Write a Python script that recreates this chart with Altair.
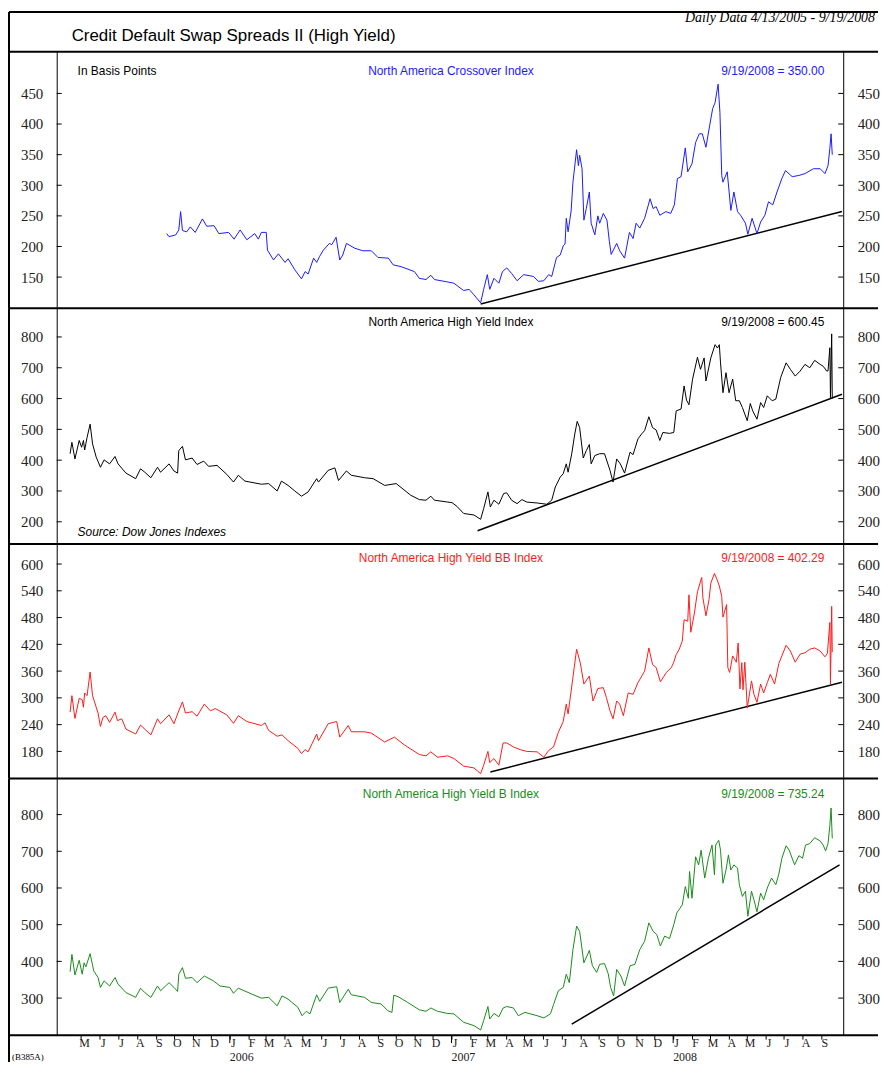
import altair as alt
import pandas as pd

# ---------------- data ----------------
xo_dates = ["2005-09-19","2005-09-23","2005-10-04","2005-10-09","2005-10-12","2005-10-15","2005-10-22","2005-10-28",
"2005-11-05","2005-11-17","2005-11-24","2005-12-06","2005-12-14","2005-12-30","2006-01-08","2006-01-18","2006-01-29",
"2006-02-11","2006-02-17","2006-02-22","2006-03-02","2006-03-04","2006-03-14","2006-03-22","2006-04-02","2006-04-07",
"2006-04-18","2006-04-29","2006-05-05","2006-05-10","2006-05-19","2006-05-24","2006-05-29","2006-06-04","2006-06-14",
"2006-06-18","2006-06-25","2006-07-01","2006-07-06","2006-07-12","2006-07-26","2006-08-08","2006-08-22","2006-09-02",
"2006-09-19","2006-09-27","2006-10-10","2006-11-01","2006-11-09","2006-11-20","2006-11-28","2006-12-04","2006-12-26",
"2007-01-05","2007-01-21","2007-01-30","2007-02-07","2007-02-18","2007-02-23","2007-03-01","2007-03-05","2007-03-12",
"2007-03-20","2007-03-26","2007-04-02","2007-04-10","2007-04-19","2007-04-30","2007-05-16","2007-05-24","2007-06-02",
"2007-06-10","2007-06-15","2007-06-23","2007-06-29","2007-07-04","2007-07-07","2007-07-09","2007-07-12","2007-07-17",
"2007-07-20","2007-07-26","2007-07-29","2007-07-31","2007-08-04","2007-08-07","2007-08-11","2007-08-16","2007-08-19",
"2007-08-25","2007-08-30","2007-09-02","2007-09-08","2007-09-14","2007-09-18","2007-09-21","2007-09-30","2007-10-05",
"2007-10-13","2007-10-21","2007-10-27","2007-11-01","2007-11-07","2007-11-15","2007-11-24","2007-11-29","2007-12-04",
"2007-12-10","2007-12-20","2007-12-28","2008-01-03","2008-01-08","2008-01-14","2008-01-21","2008-01-25","2008-02-01",
"2008-02-07","2008-02-13","2008-02-18","2008-02-24","2008-03-01","2008-03-06","2008-03-10","2008-03-15","2008-03-18",
"2008-03-21","2008-03-23","2008-03-30","2008-04-05","2008-04-10","2008-04-16","2008-04-21","2008-04-29","2008-05-03",
"2008-05-10","2008-05-18","2008-05-24","2008-05-31","2008-06-06","2008-06-13","2008-06-20","2008-06-28","2008-07-04",
"2008-07-15","2008-07-26","2008-08-05","2008-08-19","2008-08-30","2008-09-07","2008-09-12","2008-09-15","2008-09-17",
"2008-09-19"]
xo_vals = [221,216,219,227,257,226,224,232,223,245,233,234,221,223,212,227,211,221,212,223,223,194,178,188,174,180,
162,147,159,155,181,174,184,194,205,203,215,178,186,205,197,193,193,182,181,170,167,159,148,146,153,146,142,
140,128,130,121,108,130,154,130,148,140,159,165,156,144,154,151,143,144,154,151,182,186,201,204,246,224,258,
305,358,332,349,327,243,262,289,238,219,250,238,254,243,208,187,205,193,181,223,213,238,230,246,278,262,265,
251,257,254,268,311,314,361,322,335,370,384,384,362,397,425,435,465,419,316,305,322,259,289,257,251,238,220,
246,221,240,251,273,268,289,311,324,314,316,319,327,327,319,332,360,384,350.00]

hy_dates = ["2005-04-13","2005-04-16","2005-04-21","2005-04-28","2005-05-02","2005-05-05","2005-05-07","2005-05-11",
"2005-05-16","2005-05-20","2005-05-26","2005-06-02","2005-06-08","2005-06-17","2005-06-26","2005-07-01","2005-07-14",
"2005-07-30","2005-08-07","2005-08-14","2005-08-24","2005-09-04","2005-09-09","2005-09-23","2005-10-01","2005-10-07",
"2005-10-09","2005-10-15","2005-10-20","2005-10-31","2005-11-08","2005-11-19","2005-11-27","2005-12-11","2005-12-27",
"2006-01-07","2006-01-15","2006-01-26","2006-02-22","2006-03-06","2006-03-20","2006-03-27","2006-04-07","2006-04-18",
"2006-04-29","2006-05-10","2006-05-24","2006-05-27","2006-06-12","2006-06-23","2006-06-29","2006-07-12","2006-07-20",
"2006-08-11","2006-08-25","2006-09-13","2006-10-02","2006-10-26","2006-11-09","2006-11-20","2006-11-28","2006-12-04",
"2006-12-26","2007-01-02","2007-01-10","2007-01-21","2007-02-07","2007-02-18","2007-02-23","2007-03-02","2007-03-06",
"2007-03-12","2007-03-20","2007-03-28","2007-04-02","2007-04-10","2007-04-19","2007-04-27","2007-05-05","2007-05-22",
"2007-06-07","2007-06-15","2007-06-21","2007-06-29","2007-07-04","2007-07-09","2007-07-12","2007-07-18","2007-07-23",
"2007-07-27","2007-07-31","2007-08-06","2007-08-11","2007-08-16","2007-08-19","2007-08-25","2007-09-02","2007-09-10",
"2007-09-19","2007-09-24","2007-09-30","2007-10-06","2007-10-13","2007-10-22","2007-10-27","2007-11-04","2007-11-10",
"2007-11-15","2007-11-22","2007-11-28","2007-12-04","2007-12-10","2007-12-15","2007-12-26","2008-01-02","2008-01-06",
"2008-01-14","2008-01-19","2008-01-23","2008-01-27","2008-02-02","2008-02-10","2008-02-15","2008-02-21","2008-02-24",
"2008-03-03","2008-03-10","2008-03-14","2008-03-17","2008-03-19","2008-03-23","2008-03-28","2008-04-02","2008-04-08",
"2008-04-13","2008-04-19","2008-04-24","2008-05-02","2008-05-07","2008-05-11","2008-05-18","2008-05-24","2008-05-29",
"2008-06-04","2008-06-12","2008-06-18","2008-06-26","2008-07-05","2008-07-12","2008-07-20","2008-07-28","2008-08-05",
"2008-08-13","2008-08-21","2008-08-30","2008-09-04","2008-09-10","2008-09-12","2008-09-15","2008-09-16","2008-09-18",
"2008-09-19"]
hy_vals = [421,458,404,464,442,464,433,474,517,453,410,377,401,388,412,388,358,340,372,361,343,377,361,388,365,358,
431,445,401,407,386,397,380,383,354,329,351,332,322,324,300,332,318,300,283,297,340,329,367,375,334,365,351,
343,340,318,324,286,272,270,283,270,264,262,250,227,222,208,243,297,248,270,257,292,294,270,259,272,264,261,
257,270,313,345,356,388,361,421,485,526,506,407,431,451,388,415,421,421,367,329,404,388,358,426,418,469,485,
496,541,506,498,464,490,487,490,560,566,641,595,580,663,734,695,732,657,732,775,764,775,716,619,684,619,663,
593,593,571,528,584,560,533,587,571,609,593,598,668,716,695,673,689,711,700,724,711,705,689,690,765,603,810,
600.45]

bb_dates = ["2005-04-13","2005-04-16","2005-04-21","2005-04-28","2005-05-03","2005-05-05","2005-05-07","2005-05-11",
"2005-05-16","2005-05-20","2005-05-29","2005-06-02","2005-06-06","2005-06-11","2005-06-17","2005-06-26","2005-06-30",
"2005-07-07","2005-07-14","2005-07-30","2005-08-07","2005-08-14","2005-08-24","2005-09-04","2005-09-09","2005-09-23",
"2005-10-01","2005-10-09","2005-10-15","2005-10-20","2005-10-31","2005-11-08","2005-11-20","2005-11-30","2005-12-08",
"2005-12-27","2006-01-07","2006-01-15","2006-01-29","2006-02-22","2006-02-28","2006-03-06","2006-03-20","2006-03-28",
"2006-04-07","2006-04-23","2006-04-29","2006-05-05","2006-05-10","2006-05-24","2006-05-27","2006-06-12","2006-06-26",
"2006-07-01","2006-07-15","2006-07-20","2006-08-11","2006-08-22","2006-09-13","2006-09-29","2006-10-15","2006-11-09",
"2006-11-20","2006-11-28","2006-12-09","2006-12-26","2007-01-05","2007-01-21","2007-02-07","2007-02-18","2007-02-23",
"2007-03-02","2007-03-05","2007-03-12","2007-03-20","2007-03-27","2007-04-02","2007-04-13","2007-04-24","2007-05-05",
"2007-05-22","2007-06-02","2007-06-10","2007-06-18","2007-06-26","2007-07-04","2007-07-09","2007-07-12","2007-07-20",
"2007-07-26","2007-08-01","2007-08-07","2007-08-16","2007-08-22","2007-08-30","2007-09-08","2007-09-13","2007-09-19",
"2007-09-24","2007-09-30","2007-10-05","2007-10-11","2007-10-19","2007-10-27","2007-11-04","2007-11-15","2007-11-22",
"2007-11-28","2007-12-04","2007-12-11","2007-12-21","2007-12-29","2008-01-02","2008-01-06","2008-01-11","2008-01-16",
"2008-01-19","2008-01-25","2008-01-27","2008-01-30","2008-02-05","2008-02-10","2008-02-17","2008-02-19","2008-02-24",
"2008-02-29","2008-03-03","2008-03-09","2008-03-13","2008-03-17","2008-03-21","2008-03-23","2008-03-29","2008-03-31",
"2008-04-03","2008-04-08","2008-04-14","2008-04-17","2008-04-20","2008-04-23","2008-04-25","2008-04-28","2008-05-02",
"2008-05-09","2008-05-13","2008-05-18","2008-05-24","2008-05-29","2008-06-04","2008-06-09","2008-06-16","2008-06-23",
"2008-06-28","2008-07-05","2008-07-12","2008-07-20","2008-07-28","2008-08-05","2008-08-13","2008-08-21","2008-08-30",
"2008-09-07","2008-09-11","2008-09-15","2008-09-16","2008-09-18","2008-09-19"]
bb_vals = [268,305,254,299,296,279,311,305,358,305,266,236,256,260,245,268,249,253,230,219,239,230,217,253,242,262,
242,271,291,266,269,259,286,271,276,262,243,260,247,238,244,227,214,217,204,187,175,184,179,219,204,242,247,
212,238,224,224,221,201,212,195,173,170,179,167,170,164,147,143,130,149,180,155,164,149,199,199,190,184,180,
179,167,182,190,223,247,286,264,346,409,379,331,349,293,321,323,301,271,253,293,286,260,311,308,334,360,412,
375,368,336,357,368,380,397,409,427,475,472,531,447,490,538,570,524,484,520,557,579,566,551,527,481,509,368,
357,394,380,423,320,379,318,380,277,338,308,290,331,311,334,353,331,377,394,418,405,380,398,401,409,412,405,
392,400,469,331,505,402.29]

b_dates = ["2005-04-13","2005-04-16","2005-04-21","2005-04-28","2005-05-03","2005-05-06","2005-05-09","2005-05-16",
"2005-05-22","2005-05-29","2005-06-02","2005-06-08","2005-06-17","2005-06-26","2005-07-01","2005-07-14","2005-07-30",
"2005-08-07","2005-08-14","2005-08-24","2005-09-04","2005-09-09","2005-09-23","2005-10-01","2005-10-07","2005-10-09",
"2005-10-15","2005-10-20","2005-10-31","2005-11-08","2005-11-20","2005-12-05","2005-12-16","2006-01-01","2006-01-07",
"2006-01-15","2006-02-06","2006-02-22","2006-03-06","2006-03-20","2006-03-28","2006-04-07","2006-04-23","2006-04-30",
"2006-05-07","2006-05-13","2006-05-24","2006-05-29","2006-06-12","2006-06-26","2006-07-01","2006-07-15","2006-07-20",
"2006-08-11","2006-08-22","2006-09-07","2006-09-18","2006-09-25","2006-09-28","2006-10-05","2006-10-21","2006-11-09",
"2006-11-20","2006-11-28","2006-12-09","2006-12-26","2007-01-05","2007-01-21","2007-02-07","2007-02-18","2007-02-23",
"2007-03-02","2007-03-05","2007-03-12","2007-03-20","2007-03-27","2007-04-02","2007-04-13","2007-04-21","2007-05-02",
"2007-05-22","2007-06-02","2007-06-13","2007-06-18","2007-06-26","2007-07-04","2007-07-09","2007-07-14","2007-07-20",
"2007-07-26","2007-07-31","2007-08-07","2007-08-16","2007-08-21","2007-08-28","2007-09-02","2007-09-10","2007-09-16",
"2007-09-20","2007-09-25","2007-09-30","2007-10-07","2007-10-13","2007-10-22","2007-10-30","2007-11-07","2007-11-15",
"2007-11-22","2007-11-29","2007-12-05","2007-12-11","2007-12-18","2007-12-26","2008-01-02","2008-01-07","2008-01-16",
"2008-01-21","2008-01-26","2008-01-28","2008-02-01","2008-02-07","2008-02-12","2008-02-16","2008-02-22","2008-02-28",
"2008-03-05","2008-03-09","2008-03-11","2008-03-16","2008-03-19","2008-03-23","2008-03-28","2008-04-01","2008-04-05",
"2008-04-10","2008-04-16","2008-04-19","2008-04-24","2008-04-29","2008-05-03","2008-05-09","2008-05-13","2008-05-18",
"2008-05-24","2008-05-29","2008-06-04","2008-06-11","2008-06-18","2008-06-23","2008-06-28","2008-07-05","2008-07-10",
"2008-07-19","2008-07-26","2008-08-01","2008-08-06","2008-08-13","2008-08-21","2008-08-30","2008-09-04","2008-09-08",
"2008-09-12","2008-09-15","2008-09-17","2008-09-19"]
b_vals = [372,419,363,403,365,396,385,421,374,356,329,347,333,356,338,315,302,327,315,302,333,320,342,329,318,365,
383,354,356,342,360,347,333,329,313,327,311,300,302,279,306,297,275,252,264,257,309,291,327,331,288,324,309,
302,288,284,266,261,308,304,288,268,264,273,264,258,257,234,225,213,239,277,243,258,249,273,277,273,252,261,
252,246,257,282,320,329,365,342,432,496,482,396,430,388,370,392,394,367,329,306,378,360,333,388,392,432,455,
505,482,473,442,469,462,500,532,554,604,572,645,572,685,663,703,627,681,717,636,717,730,703,613,649,690,649,
663,654,609,577,591,523,591,568,535,586,568,600,627,609,638,681,715,703,663,688,681,717,721,737,728,717,701,
721,770,818,735.24]

# hand-drawn support (trend) lines: start / end
xo_trend_dates, xo_trend_vals = ["2007-02-18", "2008-10-05"], [106, 257]
hy_trend_dates, hy_trend_vals = ["2007-02-13", "2008-10-05"], [171, 614]
bb_trend_dates, bb_trend_vals = ["2007-03-06", "2008-10-05"], [134, 335]
b_trend_dates, b_trend_vals = ["2007-07-18", "2008-10-01"], [229, 663]

xo_ticks = [150, 200, 250, 300, 350, 400, 450]
hy_ticks = [200, 300, 400, 500, 600, 700, 800]
bb_ticks = [180, 240, 300, 360, 420, 480, 540, 600]
b_ticks = [300, 400, 500, 600, 700, 800]

year_labels = ["2006", "2007", "2008"]
year_dates = ["2006-01-01", "2007-01-01", "2008-01-01"]
month_ticks = pd.date_range("2005-05-01", "2008-09-01", freq="MS")

# ---------------- styling ----------------
W = 791
SANS = "Liberation Sans"
SERIF = "Liberation Serif"
XDOM = [alt.DateTime(year=2005, month=3, date=22), alt.DateTime(year=2008, month=10, date=7)]
ONE = pd.DataFrame({"k": [0]})
RIGHT_END = W + 35


def rule(x1, x2, y1, y2, width=2):
    return alt.Chart(ONE).mark_rule(color="black", strokeWidth=width).encode(
        x=alt.value(x1), x2=alt.value(x2), y=alt.value(y1), y2=alt.value(y2))


def label(text, x, y, color="black", align="left", size=12, font=SANS, style="normal"):
    return alt.Chart(ONE).mark_text(text=text, align=align, baseline="middle", fontSize=size,
                                    font=font, color=color, fontStyle=style).encode(
        x=alt.value(x), y=alt.value(y))


def panel(dates, vals, color, ydom, yticks, h, name, last, tr_d, tr_v, ty, extra, bottom=False):
    df = pd.DataFrame({"date": pd.to_datetime(dates), "v": vals})
    tdf = pd.DataFrame({"date": pd.to_datetime(tr_d), "v": tr_v})
    kdf = pd.DataFrame({"t": yticks})
    xs = alt.Scale(domain=XDOM)
    ys = alt.Scale(domain=ydom, nice=False, zero=False)
    yaxis = dict(values=yticks, ticks=False, grid=False, title=None, labelPadding=14,
                 labelFont=SERIF, labelFontSize=15, labelColor="#222", domainColor="black",
                 domainWidth=1)
    left = alt.Chart(kdf).mark_rule(color="black").encode(
        y=alt.Y("t:Q", scale=ys, axis=alt.Axis(orient="left", **yaxis)),
        x=alt.value(0), x2=alt.value(5))
    right = alt.Chart(kdf).mark_rule(color="black").encode(
        y=alt.Y("t:Q", scale=ys, axis=alt.Axis(orient="right", **yaxis)),
        x=alt.value(W - 5), x2=alt.value(W))
    if bottom:
        xaxis = alt.Axis(orient="bottom",
                         values=[alt.DateTime(year=d.year, month=d.month, date=1) for d in month_ticks],
                         labelExpr="substring(timeFormat(datum.value, '%b'), 0, 1)",
                         tickSize=4, tickColor="black", domain=False, grid=False, title=None,
                         labelFont=SERIF, labelFontSize=12, labelColor="#222", labelPadding=-2,
                         labelOverlap=False, labelFlush=False, labelAlign="center", labelOffset=3)
    else:
        xaxis = None
    trend = alt.Chart(tdf).mark_line(color="black", strokeWidth=1.5).encode(
        x=alt.X("date:T", scale=xs, axis=xaxis), y=alt.Y("v:Q", scale=ys, axis=None))
    line = alt.Chart(df).mark_line(color=color, strokeWidth=1).encode(
        x=alt.X("date:T", scale=xs, axis=xaxis), y=alt.Y("v:Q", scale=ys, axis=None))
    layers = [rule(-48, RIGHT_END, 0, 0), left, right, trend, line,
              label(name, W / 2 + 1, ty, color, "center"),
              label(last, W - 19, ty, color, "right")] + extra
    if bottom:
        ydf = pd.DataFrame({"date": pd.to_datetime(year_dates), "lab": year_labels})
        years = alt.Chart(ydf).mark_text(align="left", baseline="middle", font=SERIF, fontSize=12,
                                         color="#222").encode(
            x=alt.X("date:T", scale=xs, axis=xaxis), y=alt.value(h + 22.5), text="lab:N")
        yticks_long = alt.Chart(ydf).mark_rule(color="black", strokeWidth=1).encode(
            x=alt.X("date:T", scale=xs, axis=xaxis), y=alt.value(h), y2=alt.value(h + 8))
        layers += [years, yticks_long]
    return alt.layer(*layers).properties(width=W, height=h).resolve_axis(y="independent")


p1 = panel(xo_dates, xo_vals, "#1a1aff", [99, 518], xo_ticks, 258,
           "North America Crossover Index", "9/19/2008 = 350.00", xo_trend_dates, xo_trend_vals, 19,
           [label("In Basis Points", 21, 19),
            label("Credit Default Swap Spreads II (High Yield)", 15, -16, size=17),
            label("Daily Data 4/13/2005 - 9/19/2008", 823, -34, align="right", size=14, font=SERIF, style="italic"),
            rule(-48, RIGHT_END, -40, -40), rule(-48, -48, -40, 258)])
p2 = panel(hy_dates, hy_vals, "black", [128, 893], hy_ticks, 237,
           "North America High Yield Index", "9/19/2008 = 600.45", hy_trend_dates, hy_trend_vals, 14,
           [label("Source: Dow Jones Indexes", 21, 225, size=12, style="italic"), rule(-48, -48, 0, 237)])
p3 = panel(bb_dates, bb_vals, "#ff1a1a", [119, 645], bb_ticks, 236,
           "North America High Yield BB Index", "9/19/2008 = 402.29", bb_trend_dates, bb_trend_vals, 14,
           [rule(-48, -48, 0, 236)])
p4 = panel(b_dates, b_vals, "#1a8a1a", [199, 898], b_ticks, 258,
           "North America High Yield B Index", "9/19/2008 = 735.24", b_trend_dates, b_trend_vals, 15,
           [rule(-48, RIGHT_END, 258, 258), rule(-48, -48, 0, 285),
            label("(B385A)", -45, 280, size=9, font=SERIF)], bottom=True)

chart = alt.vconcat(p1, p2, p3, p4, spacing=0, bounds="flush").properties(
    padding={"left": 0, "top": 0, "right": 0, "bottom": 0}
).configure_view(strokeWidth=0).configure_axis(labelFont=SERIF)

chart.save("out.html", embed_options={"renderer": "svg", "actions": False})
